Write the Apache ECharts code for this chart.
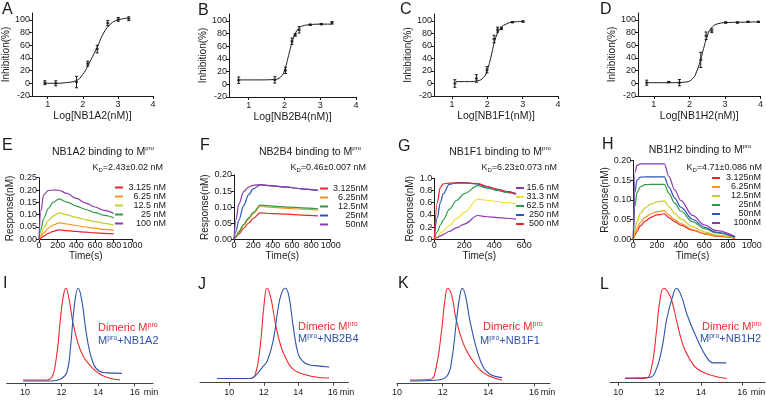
<!DOCTYPE html>
<html>
<head>
<meta charset="utf-8">
<script src="https://cdn.jsdelivr.net/npm/echarts@6/dist/echarts.min.js"></script>
<style>
    html, body {margin: 0; padding: 0; background: #fff;}
    #main {width: 766px; height: 400px;}
</style>
</head>
<body>
<div id="main"></div>
<script>
//---- dose response (A-D) ----
var inhibTicks = [-20, 0, 20, 40, 60, 80, 100];
var logTicks = [1, 2, 3, 4];

var aFitX = [0.9, 1.2, 1.5, 1.8, 2.0, 2.2, 2.4, 2.6, 2.8, 3.0, 3.3];
var aFitY = [0, 0, 1, 4, 14, 34, 56, 80, 94, 100, 103];
var aX = [0.92, 1.23, 1.82, 2.14, 2.41, 2.71, 3.01, 3.31];
var aY = [1, 0, 2, 31, 54, 95, 101, 102];
var aErr = [3, 4, 9, 4, 6, 4, 3, 3];

var bFitX = [0.7, 1.2, 1.7, 1.9, 2.0, 2.1, 2.2, 2.3, 2.4, 2.5, 2.7, 3.0, 3.3];
var bFitY = [7, 7, 7.5, 12, 22, 42, 64, 80, 88, 92, 94, 95, 95];
var bX = [0.72, 1.73, 2.03, 2.21, 2.3, 2.41, 2.72, 3.03, 3.33];
var bY = [6.5, 7, 22, 68, 78, 86, 94, 95, 97];
var bErr = [5, 5, 5, 5, 2, 5, 1, 1, 2];

var cFitX = [1.1, 1.5, 1.7, 1.9, 2.0, 2.1, 2.2, 2.3, 2.4, 2.5, 2.7, 3.0];
var cFitY = [3, 3, 4, 10, 22, 42, 66, 82, 90, 94, 98, 99];
var cX = [1.08, 1.69, 1.99, 2.19, 2.29, 2.4, 2.71, 3.01];
var cY = [0, 8, 22, 71, 86, 88, 98, 99];
var cErr = [6, 6, 5, 6, 4, 2, 1, 1];

var dFitX = [0.8, 1.4, 1.9, 2.1, 2.2, 2.3, 2.4, 2.5, 2.6, 2.8, 3.1, 3.5, 3.9];
var dFitY = [1, 1, 2, 8, 18, 34, 55, 74, 86, 94, 96, 96.5, 97];
var dX = [0.8, 1.42, 1.72, 2.32, 2.47, 2.63, 3.02, 3.35, 3.65, 3.94];
var dY = [1, 2, 1, 37, 75, 83, 96, 96, 97, 97];
var dErr = [4, 1, 5, 12, 6, 3, 1, 1, 1, 1];

//---- binding kinetics (E-H) ----
var eConc = ['3.125 nM', '6.25 nM', '12.5 nM', '25 nM', '100 nM'];
var eTime = [0, 20, 50, 100, 150, 214, 300, 400, 500, 600, 700, 800];
var eC3 = [0, 0.005, 0.013, 0.024, 0.032, 0.038, 0.035, 0.032, 0.029, 0.026, 0.024, 0.022];
var eC6 = [0, 0.010, 0.026, 0.045, 0.058, 0.067, 0.062, 0.056, 0.050, 0.045, 0.040, 0.036];
var eC12 = [0, 0.020, 0.046, 0.076, 0.094, 0.107, 0.099, 0.089, 0.080, 0.072, 0.065, 0.058];
var eC25 = [0, 0.040, 0.085, 0.125, 0.150, 0.164, 0.151, 0.135, 0.121, 0.108, 0.097, 0.087];
var eC100 = [0, 0.115, 0.180, 0.198, 0.200, 0.199, 0.186, 0.166, 0.147, 0.131, 0.117, 0.105];

var fConc = ['3.125nM', '6.25nM', '12.5nM', '25nM', '50nM'];
var fTime = [0, 20, 50, 100, 150, 200, 270, 400, 550, 700, 870];
var fC3 = [0, 0.007, 0.017, 0.034, 0.050, 0.065, 0.082, 0.080, 0.078, 0.075, 0.073];
var fC6 = [0, 0.008, 0.021, 0.043, 0.063, 0.080, 0.102, 0.099, 0.096, 0.094, 0.091];
var fC12 = [0, 0.009, 0.024, 0.046, 0.066, 0.084, 0.106, 0.103, 0.100, 0.098, 0.095];
var fC25 = [0, 0.025, 0.060, 0.105, 0.138, 0.157, 0.169, 0.166, 0.162, 0.157, 0.152];
var fC50 = [0, 0.060, 0.110, 0.148, 0.162, 0.168, 0.170, 0.166, 0.162, 0.157, 0.152];

var gConc = ['15.6 nM', '31.3 nM', '62.5 nM', '250 nM', '500 nM'];
var gTime = [0, 20, 40, 60, 100, 150, 200, 290, 350, 420, 480, 545];
var gC15 = [0, 0.03, 0.055, 0.08, 0.13, 0.19, 0.25, 0.39, 0.37, 0.355, 0.345, 0.33];
var gC31 = [0, 0.05, 0.10, 0.14, 0.23, 0.34, 0.44, 0.66, 0.64, 0.62, 0.60, 0.58];
var gC62 = [0, 0.12, 0.23, 0.32, 0.49, 0.64, 0.75, 0.88, 0.84, 0.80, 0.77, 0.74];
var gC250 = [0, 0.35, 0.60, 0.75, 0.90, 0.93, 0.93, 0.905, 0.86, 0.82, 0.785, 0.75];
var gC500 = [0, 0.60, 0.85, 0.91, 0.92, 0.92, 0.92, 0.915, 0.87, 0.82, 0.78, 0.74];

var hConc = ['3.125nM', '6.25nM', '12.5nM', '25nM', '50nM', '100nM'];
var hTime = [0, 15, 30, 60, 100, 150, 200, 262, 300, 350, 400, 500, 600, 700, 860];
var hC3 = [0, 0.011, 0.020, 0.034, 0.046, 0.056, 0.062, 0.065, 0.055, 0.045, 0.036, 0.023, 0.014, 0.008, 0.003];
var hC6 = [0, 0.015, 0.027, 0.043, 0.056, 0.065, 0.070, 0.073, 0.062, 0.050, 0.040, 0.025, 0.015, 0.009, 0.003];
var hC12 = [0, 0.025, 0.045, 0.066, 0.080, 0.090, 0.095, 0.098, 0.083, 0.066, 0.052, 0.032, 0.019, 0.011, 0.004];
var hC25 = [0, 0.085, 0.118, 0.134, 0.139, 0.140, 0.140, 0.140, 0.117, 0.092, 0.072, 0.045, 0.027, 0.016, 0.005];
var hC50 = [0, 0.120, 0.150, 0.158, 0.159, 0.159, 0.159, 0.159, 0.133, 0.105, 0.082, 0.051, 0.031, 0.018, 0.006];
var hC100 = [0, 0.170, 0.188, 0.192, 0.192, 0.192, 0.192, 0.192, 0.160, 0.126, 0.099, 0.061, 0.037, 0.022, 0.007];

//---- size exclusion (I-L), % of peak ----
var minTicks = [10, 12, 14, 16];
var iRedX = [9.9, 11.0, 11.4, 11.7, 11.95, 12.1, 12.23, 12.4, 12.6, 12.9, 13.2, 13.6, 14.0, 14.5, 15.2];
var iRedY = [3.5, 3.5, 5, 25, 70, 92, 100, 90, 66, 42, 28, 18, 11, 6, 3.5];
var iBlueX = [9.9, 11.5, 12.0, 12.3, 12.5, 12.7, 12.91, 13.1, 13.4, 13.75, 14.1, 14.5, 15.3];
var iBlueY = [2.5, 2.5, 5, 12, 40, 82, 100, 88, 47, 20, 12.5, 11, 10.5];

var jRedX = [9.3, 11.2, 11.5, 11.8, 12.0, 12.19, 12.4, 12.7, 13.0, 13.3, 13.6, 14.0, 14.5, 15.0, 15.8];
var jRedY = [4.5, 4.5, 8, 40, 80, 100, 90, 60, 38, 25, 16, 11, 8, 6, 5];
var jBlueX = [9.3, 11.2, 11.6, 11.9, 12.2, 12.55, 12.8, 13.0, 13.24, 13.45, 13.7, 14.0, 14.3, 14.6, 15.0, 15.8];
var jBlueY = [4.5, 4.5, 9, 16, 23, 45, 75, 93, 100, 92, 60, 30, 22, 19, 18, 16.5];

var kRedX = [10.57, 11.45, 11.7, 11.95, 12.1, 12.22, 12.4, 12.59, 12.9, 13.2, 13.6, 14.0, 14.6];
var kRedY = [3.5, 4, 15, 55, 88, 100, 92, 67, 42, 28, 15, 8, 3.5];
var kBlueX = [10.57, 11.8, 12.2, 12.4, 12.6, 12.75, 12.86, 13.0, 13.2, 13.5, 13.8, 14.1, 14.6];
var kBlueY = [2.5, 3.5, 8, 25, 65, 92, 100, 92, 65, 35, 16, 9, 6];

var lRedX = [10.32, 11.3, 11.6, 11.85, 12.0, 12.2, 12.4, 12.6, 12.85, 13.1, 13.33, 13.8, 14.5, 15.25];
var lRedY = [4.5, 4.5, 15, 55, 85, 100, 96, 86, 63, 42, 30, 15, 8, 4.5];
var lBlueX = [10.32, 11.5, 11.8, 12.1, 12.35, 12.6, 12.82, 13.05, 13.33, 13.8, 14.3, 14.6, 15.22];
var lBlueY = [5, 5.5, 12, 35, 68, 89, 100, 92, 72, 47, 26, 21, 21];

//---- styles ----
var FONT = '"Liberation Sans", Arial, sans-serif';
var INK = '#1a1a1a';
var RED = '#e8262b', ORANGE = '#f7941d', YG = '#c5cc2e', GREEN = '#2e9a48',
    BLUE = '#2c56b3', PURPLE = '#8b3aae', YELLOW = '#f0e23a';
var SEC_RED = '#ee2a2e', SEC_BLUE = '#2f52aa';

var option = {
    animation: false,
    backgroundColor: '#fff',
    grid: [], xAxis: [], yAxis: [], series: [], legend: [], graphic: []
};

//坐标对
function pts(xs, ys) {
    return xs.map(function (x, i) {
        return [x, ys[i]];
    });
}

//数值轴
function valAxis(o) {
    return {
        type: 'value', min: o.min, max: o.max, interval: o.interval,
        show: o.show !== false,
        name: o.name, nameLocation: 'middle', nameGap: o.gap,
        nameTextStyle: {fontFamily: FONT, fontSize: o.nameSize || 10, color: INK},
        axisLine: {show: true, onZero: false, lineStyle: {color: o.lineColor || INK, width: 1}},
        axisTick: {show: true, length: 3, lineStyle: {color: o.lineColor || INK}, customValues: o.ticks},
        axisLabel: {fontFamily: FONT, fontSize: o.labelSize || 9, color: INK, margin: o.margin || 2,
            customValues: o.ticks, formatter: o.fmt || function (v) { return String(v); }},
        splitLine: {show: false}
    };
}

//添加网格
function addGrid(box, xa, ya) {
    var idx = option.grid.length;
    option.grid.push({left: box[0], top: box[1], width: box[2], height: box[3]});
    xa.gridIndex = idx;
    ya.gridIndex = idx;
    option.xAxis.push(xa);
    option.yAxis.push(ya);
    return idx;
}

function line(idx, name, xs, ys, color, width, smooth, mono) {
    return {
        type: 'line', name: name, xAxisIndex: idx, yAxisIndex: idx,
        data: pts(xs, ys), symbol: 'none', smooth: smooth, smoothMonotone: mono,
        lineStyle: {color: color, width: width}, itemStyle: {color: color}
    };
}

function text(x, y, str, size, opt) {
    opt = opt || {};
    option.graphic.push({
        type: 'text', x: x, y: y, silent: true,
        style: {
            text: str, fontFamily: FONT, fontSize: size, fill: opt.color || INK,
            align: opt.align || 'left', verticalAlign: opt.valign || 'middle',
            rich: opt.rich
        }
    });
}

function supRich(size, color) {
    return {
        m: {fontFamily: FONT, fontSize: size, fill: color, color: color, lineHeight: size + 2},
        s: {fontFamily: FONT, fontSize: Math.round(size * 0.6), color: color, verticalAlign: 'top', lineHeight: size + 2},
        d: {fontFamily: FONT, fontSize: Math.round(size * 0.65), color: color, verticalAlign: 'bottom', lineHeight: size + 2}
    };
}

//---- A-D ----
var doseRow = [
    {box: [31, 13, 122, 83], min: 0.55, name: 'Log[NB1A2(nM)]', fx: aFitX, fy: aFitY, x: aX, y: aY, e: aErr},
    {box: [229, 14, 127, 83], min: 0.45, name: 'Log[NB2B4(nM)]', fx: bFitX, fy: bFitY, x: bX, y: bY, e: bErr},
    {box: [434, 14, 124, 82], min: 0.49, name: 'Log[NB1F1(nM)]', fx: cFitX, fy: cFitY, x: cX, y: cY, e: cErr},
    {box: [638, 13, 124, 83], min: 0.555, name: 'Log[NB1H2(nM)]', fx: dFitX, fy: dFitY, x: dX, y: dY, e: dErr}
];
doseRow.forEach(function (p) {
    var idx = addGrid(p.box,
        valAxis({min: p.min, max: 4, ticks: logTicks, name: p.name, gap: 15, nameSize: 10.5, margin: 4}),
        valAxis({min: -20, max: 111, ticks: inhibTicks, name: 'Inhibition(%)', gap: 15, nameSize: 10}));
    option.series.push(line(idx, '', p.fx, p.fy, INK, 1, 0.5));
    option.series.push({
        type: 'scatter', xAxisIndex: idx, yAxisIndex: idx, data: pts(p.x, p.y),
        symbol: 'rect', symbolSize: [3, 2], itemStyle: {color: INK}
    });
    //误差线
    option.series.push({
        type: 'custom', xAxisIndex: idx, yAxisIndex: idx,
        data: p.x.map(function (x, i) {
            return [x, p.y[i] - p.e[i], p.y[i] + p.e[i]];
        }),
        encode: {x: 0, y: [1, 2]},
        renderItem: function (params, api) {
            var lo = api.coord([api.value(0), api.value(1)]);
            var hi = api.coord([api.value(0), api.value(2)]);
            var st = {stroke: INK, lineWidth: 1};
            return {
                type: 'group', children: [
                    {type: 'line', shape: {x1: lo[0], y1: lo[1], x2: hi[0], y2: hi[1]}, style: st},
                    {type: 'line', shape: {x1: lo[0] - 1.5, y1: lo[1], x2: lo[0] + 1.5, y2: lo[1]}, style: st},
                    {type: 'line', shape: {x1: hi[0] - 1.5, y1: hi[1], x2: hi[0] + 1.5, y2: hi[1]}, style: st}
                ]
            };
        }
    });
});

//---- E-H ----
var kinRow = [
    {key: 'E', box: [39, 177.7, 93.4, 61.6], xmax: 1000, xint: 200, ymax: 0.25, yint: 0.05, dec: 2, gap: 24,
        time: eTime, conc: eConc, vals: [eC3, eC6, eC12, eC25, eC100], colors: [RED, ORANGE, YG, GREEN, PURPLE],
        title: 'NB1A2', tx: 103, kd: '=2.43±0.02 nM', kx: 163, leg: [115, 183, 38, 8.4]},
    {key: 'F', box: [234, 175, 96.7, 64.3], xmax: 1000, xint: 200, ymax: 0.20, yint: 0.05, dec: 2, gap: 22,
        time: fTime, conc: fConc, vals: [fC3, fC6, fC12, fC25, fC50], colors: [RED, ORANGE, GREEN, BLUE, PURPLE],
        title: 'NB2B4', tx: 310, kd: '=0.46±0.007 nM', kx: 366, leg: [320, 184, 35, 8.75]},
    {key: 'G', box: [434.3, 178.3, 90, 61], xmax: 600, xint: 200, ymax: 1.0, yint: 0.2, dec: 1, gap: 19,
        time: gTime, conc: gConc, vals: [gC15, gC31, gC62, gC250, gC500], colors: [PURPLE, YELLOW, GREEN, BLUE, RED],
        title: 'NB1F1', tx: 500, kd: '=6.23±0.073 nM', kx: 557, leg: [516, 183.5, 30, 9.25]},
    {key: 'H', box: [633.3, 160.7, 118.4, 78.6], xmax: 1000, xint: 200, ymax: 0.20, yint: 0.05, dec: 2, gap: 23,
        time: hTime, conc: hConc, vals: [hC3, hC6, hC12, hC25, hC50, hC100], colors: [RED, ORANGE, YG, GREEN, BLUE, PURPLE],
        title: 'NB1H2', tx: 700, kd: '=4.71±0.086 nM', kx: 762, leg: [712, 173.5, 36, 9.4]}
];
kinRow.forEach(function (p) {
    var idx = addGrid(p.box,
        valAxis({min: 0, max: p.xmax, interval: p.xint, name: 'Time(s)', gap: 10, nameSize: 10}),
        valAxis({min: 0, max: p.ymax, interval: p.yint, name: 'Response(nM)', gap: p.gap, nameSize: 10,
            fmt: function (v) { return v.toFixed(p.dec); }}));
    var prefix = p.key + '|';
    p.vals.forEach(function (v, i) {
        option.series.push(line(idx, prefix + p.conc[i], p.time, v, p.colors[i], 1.2, 0.35, 'x'));
    });
    option.legend.push({
        data: p.conc.map(function (c) { return prefix + c; }),
        orient: 'vertical', left: p.leg[0], top: p.leg[1], padding: 0,
        itemWidth: 8, itemHeight: 2, itemGap: 0, icon: 'rect', selectedMode: false,
        formatter: function (name) { return '{t|' + name.slice(prefix.length) + '}'; },
        textStyle: {
            fontFamily: FONT, fontSize: 9, color: INK,
            rich: {t: {width: p.leg[2], align: 'right', fontFamily: FONT, fontSize: 9, color: INK, lineHeight: p.leg[3]}}
        }
    });
    text(p.tx, p.key === 'H' ? 150 : 152, '{m|' + p.title + ' binding to M}{s|pro}', 10.5,
        {align: 'center', rich: supRich(10.5, INK)});
    text(p.kx, 168, '{m|K}{d|D}{m|' + p.kd + '}', 9, {align: 'right', rich: supRich(9, INK)});
});

//---- I-L ----
var secRow = [
    {box: [6.7, 288.3, 146.3, 95], min: 9, max: 17, rx: iRedX, ry: iRedY, bx: iBlueX, by: iBlueY, nb: 'NB1A2', t1: [98, 328], t2: [98, 341], mx: 151},
    {box: [200, 288, 148.3, 94.7], min: 8.3, max: 16.9, rx: jRedX, ry: jRedY, bx: jBlueX, by: jBlueY, nb: 'NB2B4', t1: [298, 327], t2: [298, 339], mx: 347},
    {box: [397, 288.3, 153, 95], min: 10, max: 16.7, rx: kRedX, ry: kRedY, bx: kBlueX, by: kBlueY, nb: 'NB1F1', t1: [483, 327], t2: [480, 341], mx: 548},
    {box: [610, 288.3, 155, 94.4], min: 9.6, max: 17.1, rx: lRedX, ry: lRedY, bx: lBlueX, by: lBlueY, nb: 'NB1H2', t1: [702, 327], t2: [700, 339], mx: 758}
];
secRow.forEach(function (p) {
    var idx = addGrid(p.box,
        valAxis({min: p.min, max: p.max, ticks: minTicks, lineColor: '#444', margin: 5}),
        valAxis({min: 0, max: 100, show: false}));
    option.series.push(line(idx, '', p.rx, p.ry, SEC_RED, 1.1, 0.45));
    option.series.push(line(idx, '', p.bx, p.by, SEC_BLUE, 1.1, 0.45));
    text(p.t1[0], p.t1[1], '{m|Dimeric M}{s|pro}', 11, {color: SEC_RED, rich: supRich(11, SEC_RED)});
    text(p.t2[0], p.t2[1], '{m|M}{s|pro}{m|+' + p.nb + '}', 11, {color: SEC_BLUE, rich: supRich(11, SEC_BLUE)});
    text(p.mx, 393, 'min', 9, {align: 'center'});
});

//---- panel letters ----
var letters = [['A', 2, 10], ['B', 198, 11], ['C', 400, 10], ['D', 600, 10],
    ['E', 2, 146], ['F', 200, 146], ['G', 398, 147], ['H', 602, 145],
    ['I', 3, 284], ['J', 198, 285], ['K', 398, 284], ['L', 600, 285]];
letters.forEach(function (l) {
    text(l[1], l[2], l[0], 16);
});

var chart = echarts.init(document.getElementById('main'), null, {renderer: 'canvas'});
chart.setOption(option);
</script>
</body>
</html>
